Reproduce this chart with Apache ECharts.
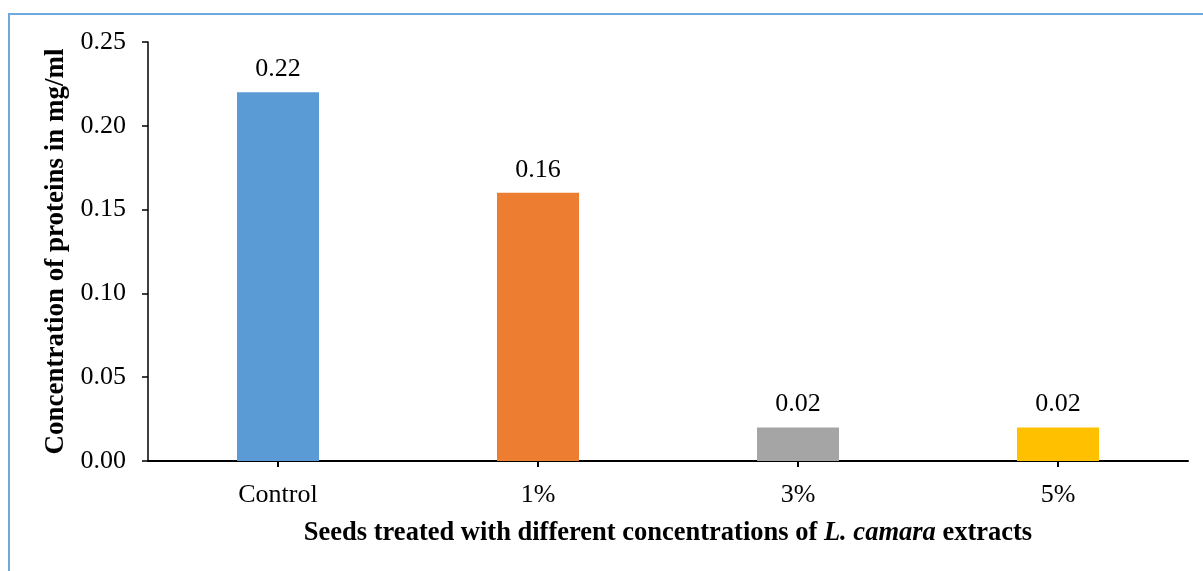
<!DOCTYPE html>
<html><head><meta charset="utf-8">
<script src="https://cdn.jsdelivr.net/npm/echarts@6/dist/echarts.min.js"></script>
<style>html,body{margin:0;padding:0;background:#fff}#frame{position:absolute;left:8px;top:13px;width:1210px;height:580px;border:2px solid #6FA8DC;box-sizing:border-box}#c{position:absolute;left:0;top:0;width:1203px;height:571px}</style>
</head><body><div id="frame"></div><div id="c"></div>
<script>
const categories = ['Control', '1%', '3%', '5%'];
const values = [0.22, 0.16, 0.02, 0.02];
const colors = ['#5B9BD5', '#ED7D31', '#A5A5A5', '#FFC000'];
const yTicks = [0, 0.05, 0.10, 0.15, 0.20, 0.25];

const font = 'Liberation Serif, Times New Roman, serif';
const chart = echarts.init(document.getElementById('c'), null, {renderer: 'canvas'});
chart.setOption({
  animation: false,
  grid: {left: 148, right: 15, top: 42, bottom: 110, containLabel: false},
  xAxis: {
    type: 'category', data: categories,
    axisLine: {lineStyle: {color: '#000', width: 2}},
    axisTick: {show: true, alignWithLabel: true, length: 6, lineStyle: {color: '#000', width: 2}},
    axisLabel: {color: '#000', fontFamily: font, fontSize: 26, margin: 21},
    name: '{b|Seeds treated with different concentrations of }{bi|L. camara}{b| extracts}',
    nameLocation: 'middle', nameGap: 59,
    nameTextStyle: {rich: {
      b: {fontFamily: font, fontSize: 26.5, fontWeight: 'bold', color: '#000'},
      bi: {fontFamily: font, fontSize: 26.5, fontWeight: 'bold', fontStyle: 'italic', color: '#000'}
    }}
  },
  yAxis: {
    type: 'value', min: 0, max: 0.25, interval: 0.05,
    axisLine: {show: true, lineStyle: {color: '#000', width: 1.5}},
    axisTick: {show: true, length: 6, lineStyle: {color: '#000', width: 1.5}},
    splitLine: {show: false},
    axisLabel: {color: '#000', fontFamily: font, fontSize: 26, margin: 22,
      formatter: v => v.toFixed(2)},
    name: 'Concentration of proteins in mg/ml',
    nameLocation: 'middle', nameGap: 72,
    nameTextStyle: {fontFamily: font, fontSize: 27, fontWeight: 'bold', color: '#000'}
  },
  series: [{
    type: 'bar', barWidth: 82,
    data: values.map((v, i) => ({value: v, itemStyle: {color: colors[i]}})),
    label: {show: true, position: 'top', distance: 10, color: '#000', fontFamily: font, fontSize: 26,
      formatter: p => p.value.toFixed(2)}
  }]
});
</script></body></html>
